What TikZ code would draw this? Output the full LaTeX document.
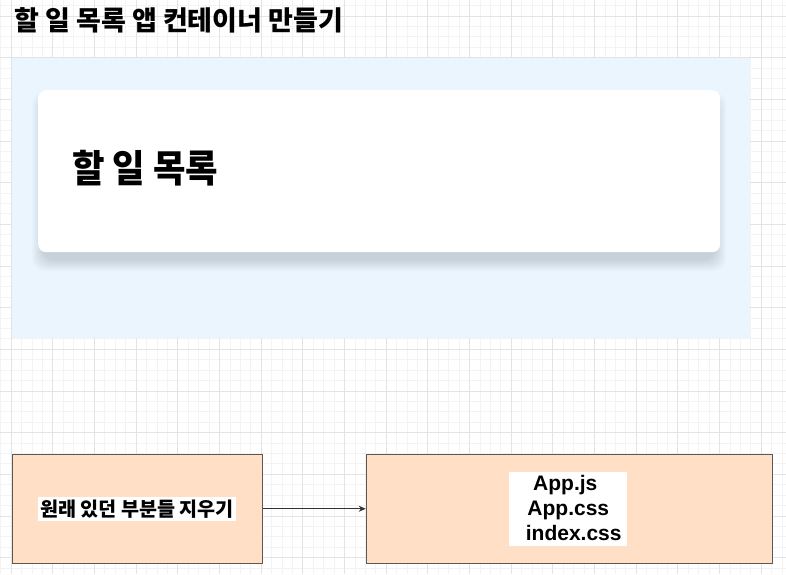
\documentclass[tikz,border=0pt]{standalone}
\usepackage{fontspec}
\setmainfont{Liberation Sans}
\newfontfamily\kr{Noto Sans CJK KR}
\newfontfamily\krn{Noto Sans CJK KR}[FakeStretch=0.93]
\usetikzlibrary{arrows.meta}
\definecolor{gridminor}{HTML}{F3F3F3}
\definecolor{gridmajor}{HTML}{E3E3E3}
\definecolor{panelblue}{HTML}{EBF5FD}
\definecolor{peach}{HTML}{FFE0C6}
\definecolor{boxline}{HTML}{5E5752}
\definecolor{arrowgray}{HTML}{333333}
\definecolor{shadowcol}{HTML}{2A3A50}
\tikzset{
  minorline/.style={draw=gridminor, line width=0.5pt},
  majorline/.style={draw=gridmajor, line width=0.6pt},
  shadowlayer/.style={fill=shadowcol, fill opacity=0.017, rounded corners=12pt},
  peachbox/.style={draw=boxline, line width=0.8pt, fill=peach, inner sep=0pt,
    minimum height=108.7pt, anchor=north west},
  whitelabel/.style={fill=white, inner sep=0pt},
  filetext/.style={anchor=base, inner sep=0pt, font=\bfseries\fontsize{21}{24}\selectfont},
  arrowline/.style={draw=arrowgray, line width=0.7pt, -{Stealth[length=7pt,width=6pt]}}
}
\begin{document}
\begin{tikzpicture}[x=1pt,y=-1pt]
\useasboundingbox (0,0) rectangle (786,574);
\fill[white] (0,0) rectangle (786,574);
% grid
\foreach \k in {0,...,75} {\draw[minorline] ({0.58+\k*10.4167},0) -- ++(0,574);}
\foreach \k in {0,...,54} {\draw[minorline] (0,{5.38+\k*10.4167}) -- ++(786,0);}
\foreach \k in {0,...,18} {\draw[majorline] ({11+\k*41.667},0) -- ++(0,574);}
\foreach \k in {0,...,13} {\draw[majorline] (0,{15.8+\k*41.667}) -- ++(786,0);}
% title
\node (title) [anchor=west, inner sep=0pt, font=\kr\bfseries\fontsize{27}{30}\selectfont] at (14,20) {할 일 목록 앱 컨테이너 만들기};
% panel
\node (panel) [fill=panelblue, inner sep=0pt, minimum width=738pt, minimum height=280pt, anchor=north west] at (12,58) {};
% card shadow
\foreach \r in {1,...,12} {
  \fill[shadowlayer] ({44-\r},{104-\r}) rectangle ({714+\r},{259+\r});
}
% card
\node (card) [fill=white, rounded corners=8pt, inner sep=0pt, minimum width=682pt, minimum height=162pt, anchor=north west] at (38,90) {};
\node (cardtitle) [anchor=west, inner sep=0pt, font=\krn\bfseries\fontsize{38}{41}\selectfont] at (72,168) {할 일 목록};
% bottom boxes
\node (del) [peachbox, minimum width=250pt] at (11.7,454) {};
\node (dellabel) [whitelabel, inner xsep=2.5pt, minimum height=24pt, font=\kr\bfseries\fontsize{19.6}{21}\selectfont] at (del.center) {원래 있던 부분들 지우기};
\node (files) [peachbox, minimum width=406pt] at (365.7,454) {};
\node (filesbg) [whitelabel, minimum width=117.7pt, minimum height=74.3pt] at (567.8,508.8) {};
\node (f1) [filetext] at (565.3,490.5) {App.js};
\node (f2) [filetext] at (568.3,515) {App.css};
\node (f3) [filetext] at (573.7,540) {index.css};
\draw[arrowline] (del.east) -- (files.west);
\end{tikzpicture}
\end{document}
